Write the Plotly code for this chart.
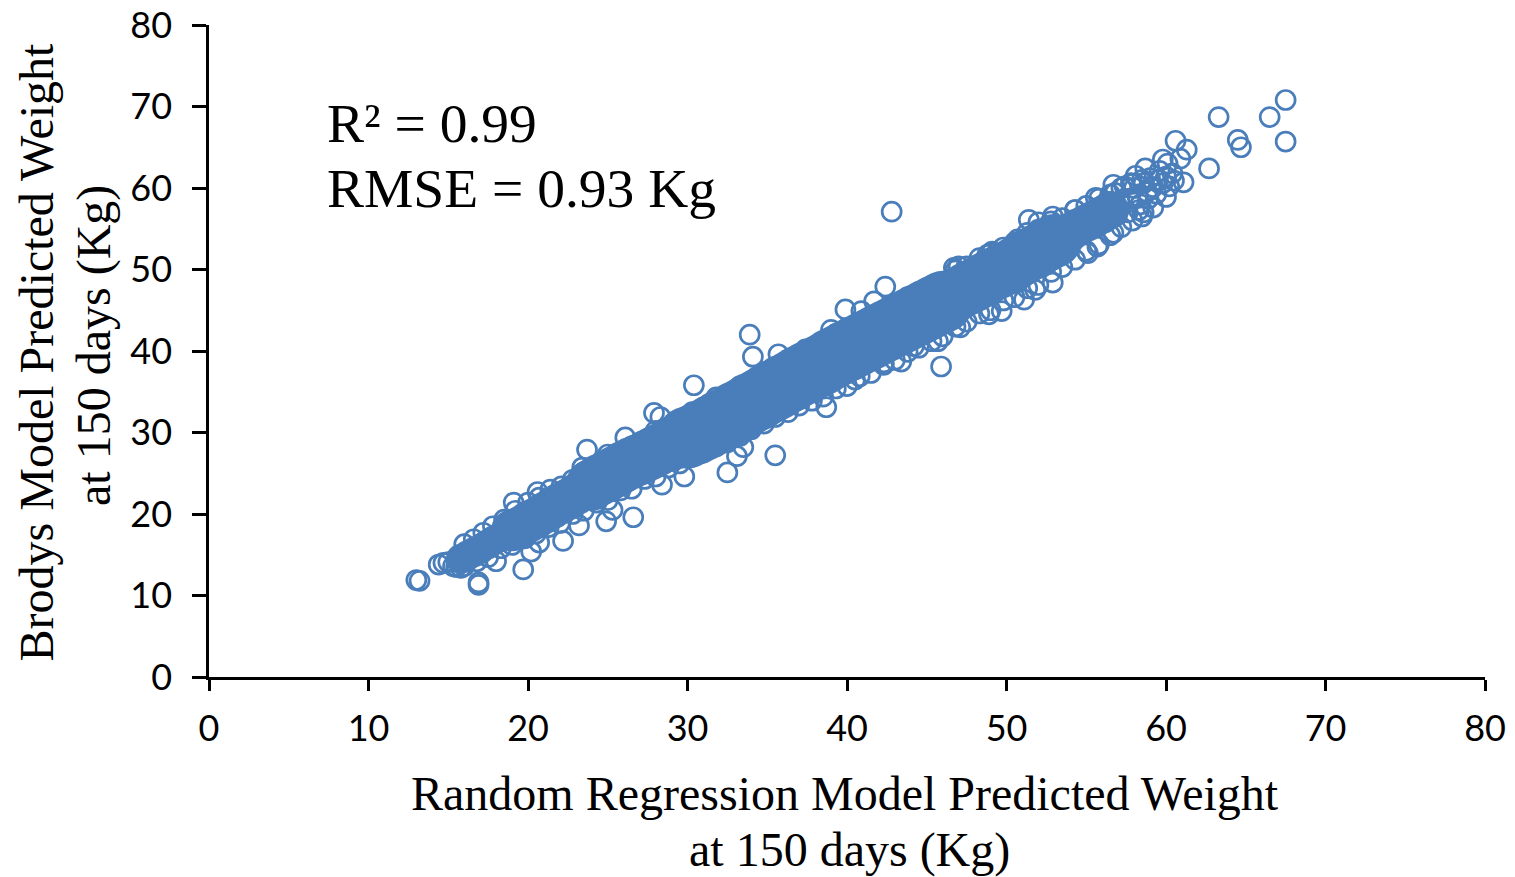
import plotly.graph_objects as go

BLUE = "#4A7EBB"
TICKS = [0, 10, 20, 30, 40, 50, 60, 70, 80]

# Dense centre of the cloud (x, y in Kg)
core_a_x = [15.8, 16.2, 16.6, 17.0, 17.4, 17.8, 18.2, 18.6]
core_a_y = [14.5, 14.9, 15.3, 15.7, 16.2, 16.7, 17.1, 17.6]
core_b_x = [19.0, 19.5, 20.0, 20.5, 21.0, 21.5, 22.0, 22.5, 23.0, 23.5]
core_b_y = [18.0, 18.4, 19.0, 19.5, 20.1, 20.7, 21.3, 21.8, 22.4, 23.0]
core_c_x = [24.0, 24.5, 25.0, 25.5, 26.0, 26.5, 27.0, 27.5, 28.0, 28.5, 29.0, 29.5]
core_c_y = [23.6, 24.2, 24.7, 25.2, 25.8, 26.3, 26.7, 27.2, 27.7, 28.2, 28.7, 29.1]
core_d_x = [30.0, 30.5, 31.0, 31.5, 32.0, 32.5, 33.0, 33.5, 34.0, 34.5, 35.0, 35.5, 36.0, 36.5,
            37.0, 37.5, 38.0, 38.5, 39.0, 39.5, 40.0, 40.5, 41.0, 41.5, 42.0, 42.5, 43.0, 43.5,
            44.0, 44.5, 45.0, 45.5, 46.0]
core_d_y = [29.4, 29.8, 30.3, 30.8, 31.4, 31.9, 32.5, 33.0, 33.6, 34.1, 34.7, 35.2, 35.8, 36.3,
            36.9, 37.4, 37.9, 38.4, 39.0, 39.5, 40.0, 40.5, 41.0, 41.5, 42.0, 42.5, 43.0, 43.5,
            44.0, 44.5, 45.0, 45.5, 46.0]
core_e_x = [46.5, 47.0, 47.5, 48.0, 48.5, 49.0, 49.5, 50.0, 50.5, 51.0, 51.5, 52.0, 52.5, 53.0]
core_e_y = [46.6, 47.1, 47.6, 48.1, 48.7, 49.2, 49.7, 50.1, 50.7, 51.3, 51.9, 52.4, 53.0, 53.5]
core_f_x = [53.5, 54.0, 54.5, 55.0, 55.5, 56.0, 56.5]
core_f_y = [54.2, 54.7, 55.2, 55.7, 56.2, 56.7, 57.3]

# Rings along the upper and lower edge of the cloud
upper_x = [16.0, 16.6, 17.2, 17.8, 18.5, 19.2, 20.0, 20.7, 21.4, 22.1, 22.8, 23.5, 24.3, 25.0, 25.7,
           26.5, 27.2, 28.0, 28.8, 29.5, 30.3, 31.0, 31.8, 32.5, 33.3, 34.0, 34.8, 35.5, 36.3, 37.0,
           37.8, 38.5, 39.3, 40.0, 40.8, 41.5, 42.3, 43.0, 43.8, 44.5, 45.3, 46.0, 46.8, 47.5, 48.3,
           49.0, 49.8, 50.5, 51.3, 52.0, 52.8, 53.5, 54.3, 55.0, 55.8, 56.5, 57.2, 57.9, 58.5]
upper_y = [16.3, 16.9, 17.7, 18.5, 19.3, 20.4, 21.4, 22.0, 23.0, 23.4, 24.2, 24.9, 25.8, 26.7, 27.2,
           28.3, 28.8, 30.2, 30.6, 31.3, 32.5, 33.1, 34.3, 34.6, 35.7, 36.3, 37.4, 37.7, 38.9, 39.5,
           40.4, 41.0, 42.1, 42.8, 43.5, 44.1, 45.0, 45.5, 46.6, 47.1, 48.0, 48.5, 49.9, 50.4, 51.4,
           52.0, 52.7, 53.3, 54.5, 54.9, 55.9, 56.3, 57.3, 57.8, 58.7, 59.2, 60.0, 60.5, 61.0]
lower_x = [14.4, 14.7, 15.0, 15.3, 15.5, 15.8, 16.0, 16.8, 17.5, 18.3, 19.0, 19.8, 20.5, 21.3, 22.0, 22.8, 23.5, 24.3, 25.0, 25.8, 26.5,
           27.3, 28.0, 28.8, 29.5, 30.3, 31.0, 31.8, 32.5, 33.3, 34.0, 34.8, 35.5, 36.3, 37.0, 37.8,
           38.5, 39.3, 40.0, 40.8, 41.5, 42.3, 43.0, 43.8, 44.5, 45.3, 46.0, 46.8, 47.5, 48.3, 49.0,
           49.8, 50.5, 51.3, 52.0, 52.8, 53.5, 54.3, 55.0, 55.8, 56.5, 57.2, 57.9, 58.6]
lower_y = [13.8, 14.0, 14.1, 13.6, 13.5, 13.4, 13.6, 14.2, 14.7, 15.8, 16.2, 17.0, 17.6, 18.4, 18.9, 20.0, 20.4, 21.4, 21.7, 22.9, 23.1,
           24.3, 24.6, 25.7, 26.2, 27.0, 27.6, 28.3, 28.8, 29.6, 30.4, 31.1, 31.9, 32.5, 33.3, 33.9,
           34.4, 35.4, 35.7, 36.9, 37.3, 38.3, 38.9, 39.9, 40.4, 41.2, 41.8, 43.0, 43.6, 44.6, 45.0,
           46.2, 46.6, 47.7, 48.1, 49.7, 50.3, 51.2, 52.3, 53.1, 54.2, 55.2, 56.0, 57.0]

# Rings of the thinning upper end of the cloud
tail_x = [56.0, 56.4, 56.8, 57.1, 57.4, 57.7, 58.0, 58.2, 58.4, 58.6, 58.8, 59.0, 59.2, 59.4, 59.6,
          59.8, 60.0, 60.2, 60.4, 60.5, 58.3, 58.9, 59.5, 60.1, 57.6, 58.1]
tail_y = [57.8, 57.0, 59.4, 58.3, 60.2, 58.7, 60.0, 59.0, 58.0, 60.6, 59.5, 61.2, 60.1, 59.3, 62.1,
          60.6, 61.4, 60.2, 61.8, 60.9, 57.3, 58.7, 61.0, 63.0, 57.0, 61.5]

# Separate rings clearly visible outside the cloud
out_x = [13.0, 13.2, 16.9, 16.9, 19.7, 18.0, 20.2, 20.7, 22.2, 23.2, 24.9, 26.6, 25.3, 28.4, 29.8, 32.5,
         35.5, 33.1, 33.5, 19.1, 20.6, 23.7, 26.1, 27.9, 28.3, 30.4, 25.0, 23.4, 42.8, 45.9, 42.4, 41.7,
         39.9, 40.9, 39.0, 47.0, 46.7, 45.4, 49.1, 48.8, 50.7, 51.4, 52.0, 52.9, 54.3, 55.6, 56.7, 57.8,
         58.7, 59.8, 60.6, 61.3, 60.9, 62.7, 61.1, 60.0, 63.3, 64.5, 64.7, 66.5, 67.5, 67.5, 52.9, 51.8,
         51.1, 49.7, 48.9, 55.1, 55.7, 56.7, 58.5, 59.2, 47.1, 45.7, 43.4, 42.3, 33.9, 34.1, 35.7, 37.4,
         40.5, 38.7, 44.2]
out_y = [11.9, 11.8, 11.6, 11.3, 13.2, 14.2, 15.4, 16.5, 16.7, 18.6, 19.1, 19.6, 20.5, 23.6, 24.6, 25.1,
         27.2, 27.1, 28.2, 21.4, 22.7, 27.9, 29.4, 32.4, 31.9, 35.8, 27.3, 25.7, 57.1, 38.1, 47.9, 46.1,
         45.1, 44.9, 42.6, 50.4, 50.2, 47.9, 52.2, 51.8, 53.7, 56.1, 55.8, 56.5, 57.3, 58.8, 60.4, 60.6,
         62.4, 63.5, 65.8, 64.7, 63.6, 62.4, 60.7, 58.9, 68.7, 65.9, 65.0, 68.7, 70.8, 65.7, 48.4, 47.5,
         46.3, 44.9, 44.5, 52.0, 52.8, 54.5, 56.5, 57.6, 42.9, 41.2, 38.7, 38.6, 42.0, 39.3, 39.6, 40.2,
         36.5, 33.1, 40.6]

fig = go.Figure()
for cx, cy, d in [(core_a_x, core_a_y, 30), (core_b_x, core_b_y, 42), (core_c_x, core_c_y, 52),
                  (core_d_x, core_d_y, 62), (core_e_x, core_e_y, 54), (core_f_x, core_f_y, 38)]:
    fig.add_trace(go.Scatter(x=cx, y=cy, mode="markers", cliponaxis=False, showlegend=False,
                             marker=dict(symbol="circle", size=d, color=BLUE, line=dict(width=0))))
for rx, ry in [(upper_x, upper_y), (lower_x, lower_y), (tail_x, tail_y), (out_x, out_y)]:
    fig.add_trace(go.Scatter(x=rx, y=ry, mode="markers", cliponaxis=False, showlegend=False,
                             marker=dict(symbol="circle-open", size=19, color=BLUE,
                                         line=dict(width=2.7, color=BLUE))))

SERIF = "Liberation Serif"
axis = dict(range=[0, 80], tickvals=TICKS, ticktext=[str(t) for t in TICKS], showgrid=False,
            zeroline=False, showline=True, linecolor="black", linewidth=2.5, ticks="outside",
            tickcolor="black", tickwidth=2.5, tickfont=dict(family="Lato", size=36, color="black"))
fig.update_layout(
    width=1515, height=877, margin=dict(l=209, r=30, t=25, b=200, autoexpand=False),
    paper_bgcolor="white", plot_bgcolor="white", showlegend=False,
    xaxis=dict(axis, ticklen=11, ticklabelstandoff=7),
    yaxis=dict(axis, ticklen=14, ticklabelstandoff=13),
)

def note(text, x, y, size, **kw):
    fig.add_annotation(text=text, x=x, y=y, showarrow=False, font=dict(family=SERIF, size=size, color="black"), **kw)

note("R² = 0.99", 7.3, 67.9, 55.5, xref="x", yref="y", xanchor="left", yanchor="middle")
note("RMSE = 0.93 Kg", 7.3, 59.9, 55.5, xref="x", yref="y", xanchor="left", yanchor="middle")
note("Random Regression Model Predicted Weight", 0.4985, -0.179, 48, xref="paper", yref="paper", yanchor="middle")
note("at 150 days (Kg)", 0.502, -0.265, 48, xref="paper", yref="paper", yanchor="middle")
note("Brodys Model Predicted Weight", -0.135, 0.499, 48, xref="paper", yref="paper", textangle=-90, xanchor="center", yanchor="middle")
note("at 150 days (Kg)", -0.09, 0.508, 48, xref="paper", yref="paper", textangle=-90, xanchor="center", yanchor="middle")

fig.write_html("out.html", config=dict(displayModeBar=False),
               post_script="document.body.style.margin='0';document.body.style.overflow='hidden';")
